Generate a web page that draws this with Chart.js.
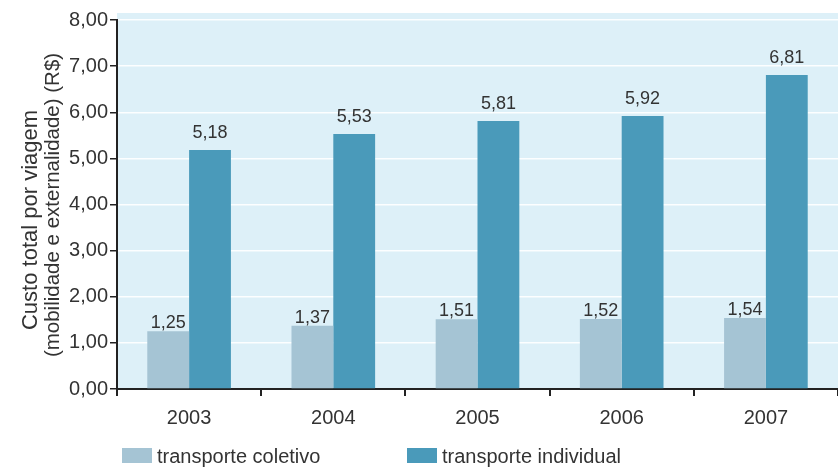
<!DOCTYPE html>
<html lang="pt">
<head>
<meta charset="UTF-8">
<title>Custo total por viagem</title>
<script src="https://cdn.jsdelivr.net/npm/chart.js"></script>
<style>
  html, body { margin: 0; padding: 0; background: #fff; }
  #wrap { width: 838px; height: 467px; }
</style>
</head>
<body>
<div id="wrap"><canvas id="grafico" width="838" height="467"></canvas></div>
<script>
// dados do gráfico
const anos = ['2003', '2004', '2005', '2006', '2007'];
const coletivo = [1.25, 1.37, 1.51, 1.52, 1.54];
const individual = [5.18, 5.53, 5.81, 5.92, 6.81];
const yTicks = [0, 1, 2, 3, 4, 5, 6, 7, 8];
const tituloTopo = 'Custo total por viagem (R$)';
const tituloEixo = ['Custo total por viagem', '(mobilidade e externalidade) (R$)'];

const fonte = '"Liberation Sans", Arial, Helvetica, sans-serif';
const corTexto = '#333';
const virgula = v => v.toFixed(2).replace('.', ',');

// fundo azul claro da área do gráfico
const fundo = {
  id: 'fundo',
  beforeDraw(chart) {
    const { ctx, chartArea } = chart;
    ctx.save();
    ctx.fillStyle = '#ddf0f8';
    ctx.fillRect(chartArea.left, chartArea.top - 7, chart.width - chartArea.left, chartArea.bottom - chartArea.top + 7);
    ctx.restore();
  }
};

// valores em cima das barras
const rotulos = {
  id: 'rotulos',
  afterDatasetsDraw(chart) {
    const ctx = chart.ctx;
    ctx.save();
    ctx.font = '18px ' + fonte;
    ctx.fillStyle = corTexto;
    ctx.textAlign = 'center';
    ctx.textBaseline = 'alphabetic';
    chart.data.datasets.forEach((ds, i) => {
      chart.getDatasetMeta(i).data.forEach((bar, j) => {
        ctx.fillText(virgula(ds.data[j]), bar.x, bar.y - ds.gapRotulo);
      });
    });
    ctx.restore();
  }
};

// legenda embaixo, título do eixo y e título cortado no topo
const textos = {
  id: 'textos',
  afterDraw(chart) {
    const ctx = chart.ctx;
    ctx.save();
    ctx.font = '20px ' + fonte;
    ctx.textBaseline = 'alphabetic';
    const xs = [122, 407];
    chart.data.datasets.forEach((ds, i) => {
      ctx.fillStyle = ds.backgroundColor;
      ctx.fillRect(xs[i], 448, 30, 15);
      ctx.fillStyle = corTexto;
      ctx.fillText(ds.label, xs[i] + 35, 463);
    });

    ctx.font = 'bold 21px ' + fonte;
    ctx.fillText(tituloTopo, 56, -4);

    // título do eixo y (duas linhas)
    ctx.textAlign = 'center';
    ctx.textBaseline = 'middle';
    ctx.font = '22px ' + fonte;
    ctx.save();
    ctx.translate(31, 220);
    ctx.rotate(-Math.PI / 2);
    ctx.fillText(tituloEixo[0], 0, 0);
    ctx.restore();
    ctx.font = '20.5px ' + fonte;
    ctx.translate(53, 205);
    ctx.rotate(-Math.PI / 2);
    ctx.fillText(tituloEixo[1], 0, 0);
    ctx.restore();
  }
};

new Chart(document.getElementById('grafico'), {
  type: 'bar',
  data: {
    labels: anos,
    datasets: [
      { label: 'transporte coletivo', data: coletivo, backgroundColor: '#a5c4d4', gapRotulo: 3 },
      { label: 'transporte individual', data: individual, backgroundColor: '#4a9aba', gapRotulo: 12 }
    ]
  },
  options: {
    responsive: false,
    animation: false,
    layout: { padding: { top: 20, right: -6, left: 0, bottom: 0 } },
    datasets: { bar: { barPercentage: 1, categoryPercentage: 0.58 } },
    plugins: { legend: { display: false }, tooltip: { enabled: false } },
    scales: {
      x: {
        grid: { color: 'transparent', tickColor: '#222', tickLength: 7, lineWidth: 2 },
        border: { color: '#222', width: 2 },
        ticks: { color: corTexto, font: { family: fonte, size: 20 }, padding: 10 },
        afterFit(scale) { scale.height = 78; }
      },
      y: {
        min: 0,
        max: 8,
        afterBuildTicks(scale) { scale.ticks = yTicks.map(v => ({ value: v })); },
        grid: { color: 'rgba(255,255,255,0.9)', lineWidth: 1.5, tickColor: '#222', tickLength: 7 },
        border: { color: '#222', width: 2 },
        ticks: { color: corTexto, font: { family: fonte, size: 20 }, padding: 2, callback: v => virgula(v) },
        afterFit(scale) { scale.width = 117; }
      }
    }
  },
  plugins: [fundo, rotulos, textos]
});
</script>
</body>
</html>
